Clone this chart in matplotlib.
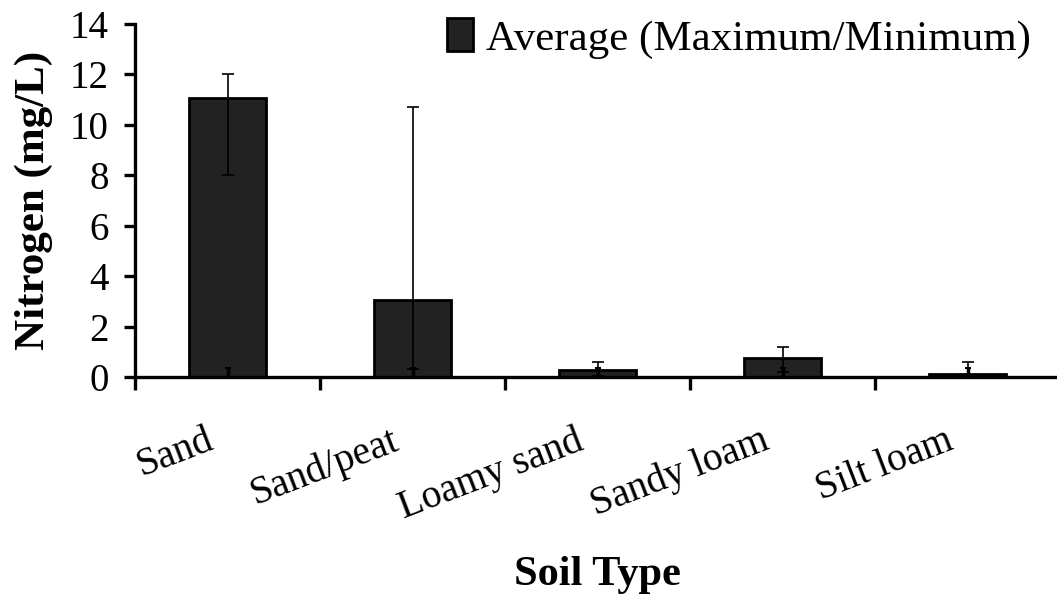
import matplotlib
matplotlib.use("Agg")
import matplotlib.pyplot as plt
import matplotlib.transforms as mtransforms
import numpy as np

categories = ["Sand", "Sand/peat", "Loamy sand", "Sandy loam", "Silt loam"]
average = [11.05, 3.05, 0.28, 0.75, 0.10]
maximum = [12.0, 10.7, 0.58, 1.2, 0.58]
minimum = [8.0, 0.3, 0.05, 0.2, 0.0]
baseline_stub = [0.35, 0.35, 0.35, 0.35, 0.35]
yticks = [0, 2, 4, 6, 8, 10, 12, 14]

plt.rcParams['font.family'] = ['Liberation Serif', 'DejaVu Serif']

fig = plt.figure(figsize=(10.57, 5.94), dpi=100)
ax = fig.add_axes([135/1057, 1-377/594, (1060-135)/1057, (377-24)/594])

x = np.arange(len(categories))
avg = np.array(average)
lo = avg - np.array(minimum)
hi = np.array(maximum) - avg

ax.bar(x, average, width=0.42, color="#222222", edgecolor="black", linewidth=2,
       label="Average (Maximum/Minimum)", zorder=2)
ax.errorbar(x, average, yerr=[lo, hi], fmt="none", ecolor="black", elinewidth=1.2,
            capsize=4, capthick=1.2, zorder=3)
ax.errorbar(x, np.zeros(len(x)), yerr=[np.zeros(len(x)), baseline_stub], fmt="none",
            ecolor="black", elinewidth=2.5, capsize=2, capthick=1.5, zorder=3)

ax.set_xlim(-0.5, 4.5)
ax.set_ylim(0, 14)
ax.set_yticks(yticks)
ax.set_yticklabels([str(v) for v in yticks], fontsize=28)
ax.set_xticks(np.arange(-0.5, 5.0, 1.0))
ax.set_xticklabels([])

for s in ["top", "right"]:
    ax.spines[s].set_visible(False)
for s in ["left", "bottom"]:
    ax.spines[s].set_linewidth(2.4)
ax.tick_params(axis="y", direction="out", length=8, width=2.4, pad=11)
ax.tick_params(axis="x", direction="out", length=9, width=2.4)

offset = mtransforms.ScaledTranslation(-22/100, -45/100, fig.dpi_scale_trans)
trans = mtransforms.blended_transform_factory(ax.transData, ax.transAxes) + offset
for xi, lab in zip(x, categories):
    ax.text(xi, 0, lab, transform=trans, rotation=21, rotation_mode="anchor",
            ha="right", va="top", fontsize=28.5)

ax.set_ylabel("Nitrogen (mg/L)", fontsize=31, fontweight="bold", labelpad=12)
fig.text(0.565, 0.0, "Soil Type", fontsize=30.5, fontweight="bold", ha="center", va="bottom")

leg = ax.legend(loc="upper right", bbox_to_anchor=(0.987, 1.065), frameon=False,
                fontsize=31, handlelength=0.6, handleheight=0.8, handletextpad=0.3,
                borderaxespad=0)

fig.savefig("out.png", dpi=100)
